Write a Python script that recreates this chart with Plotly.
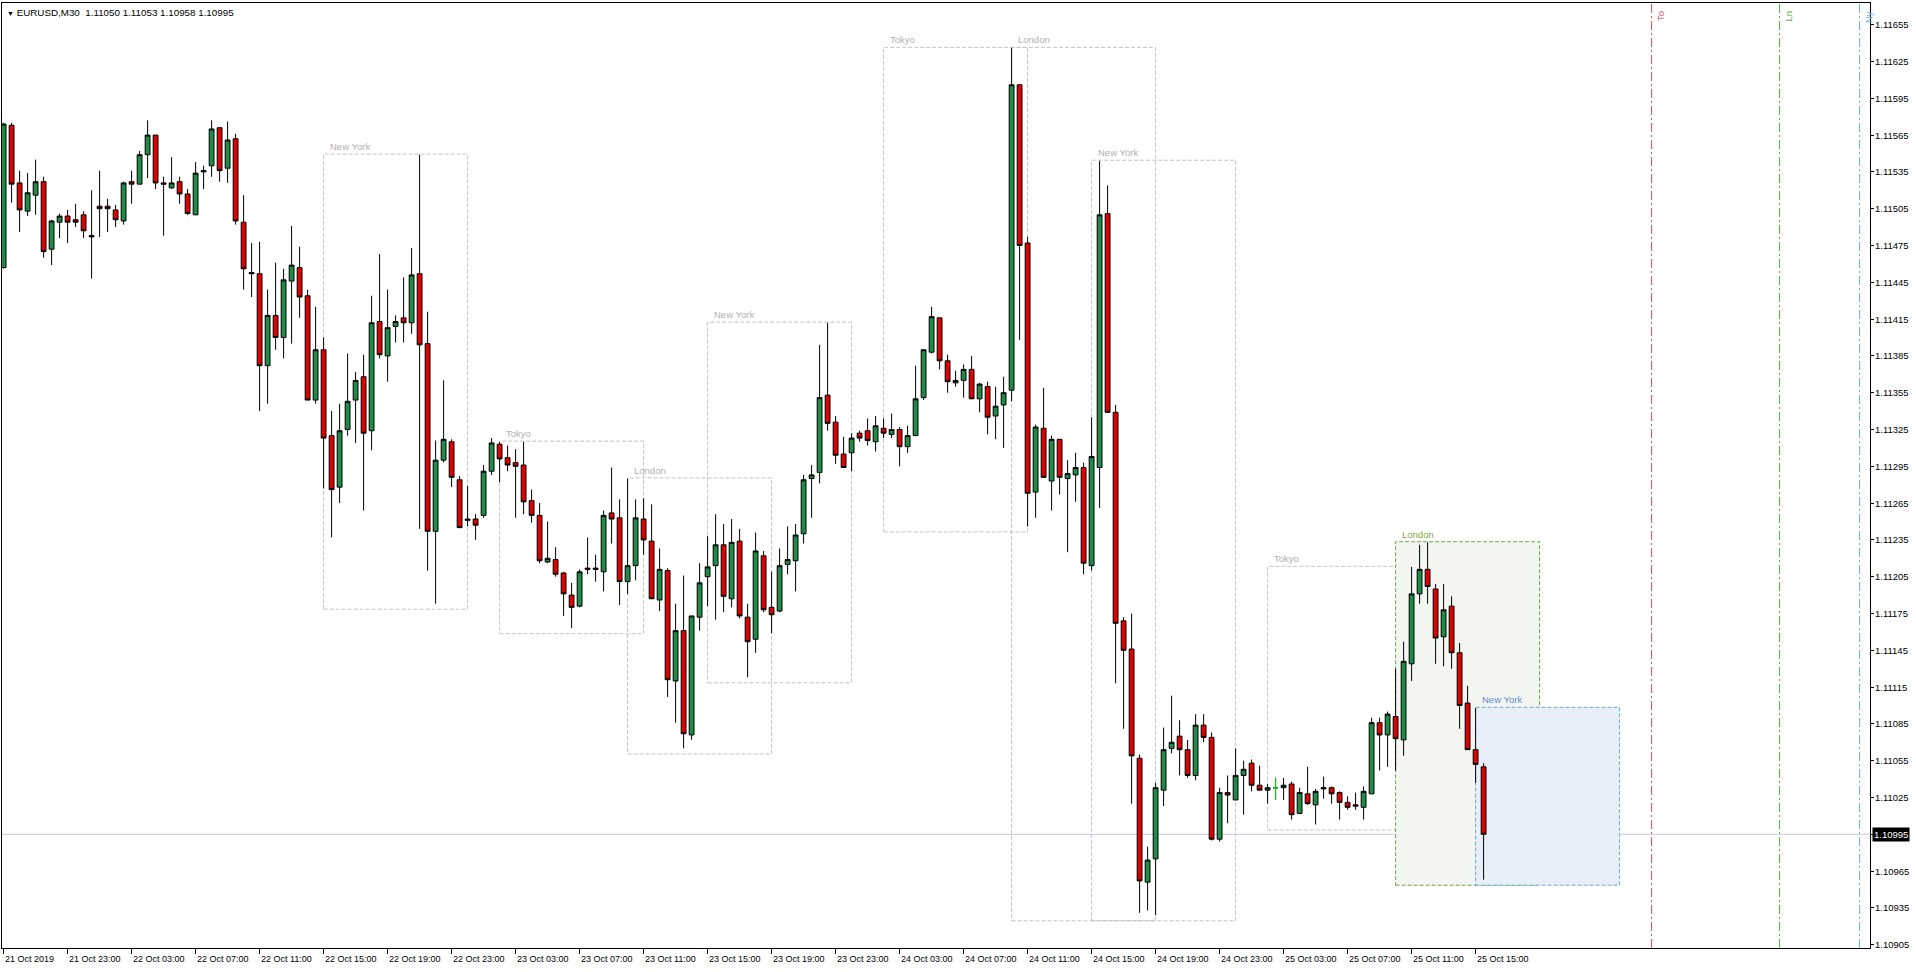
import plotly.graph_objects as go
import pandas as pd

# ---------------- data ----------------
SYMBOL = "EURUSD,M30"
TITLE_VALUES = ["1.11050", "1.11053", "1.10958", "1.10995"]
START_TIME = "2019-10-21 19:00"   # first M30 bar on the chart

OPEN = [
    1.11457, 1.11573, 1.11526, 1.11503, 1.11516, 1.11527, 1.11472, 1.11494, 1.11499, 1.11496,
    1.11500, 1.11482, 1.11507, 1.11507, 1.11504, 1.11495, 1.11527, 1.11525, 1.11549, 1.11565,
    1.11526, 1.11522, 1.11527, 1.11517, 1.11500, 1.11535, 1.11540, 1.11571, 1.11538, 1.11562,
    1.11494, 1.11453, 1.11452, 1.11377, 1.11418, 1.11400, 1.11446, 1.11457, 1.11434, 1.11349,
    1.11390, 1.11320, 1.11278, 1.11325, 1.11349, 1.11368, 1.11324, 1.11413, 1.11385, 1.11409,
    1.11416, 1.11412, 1.11452, 1.11395, 1.11242, 1.11300, 1.11315, 1.11284, 1.11252, 1.11252,
    1.11255, 1.11291, 1.11313, 1.11302, 1.11298, 1.11296, 1.11267, 1.11255, 1.11217, 1.11219,
    1.11208, 1.11190, 1.11181, 1.11212, 1.11212, 1.11209, 1.11257, 1.11253, 1.11201, 1.11214,
    1.11252, 1.11234, 1.11186, 1.11210, 1.11120, 1.11161, 1.11076, 1.11172, 1.11205, 1.11214,
    1.11231, 1.11187, 1.11234, 1.11172, 1.11154, 1.11222, 1.11180, 1.11177, 1.11215, 1.11218,
    1.11240, 1.11285, 1.11290, 1.11353, 1.11331, 1.11305, 1.11306, 1.11322, 1.11324, 1.11315,
    1.11326, 1.11321, 1.11325, 1.11311, 1.11320, 1.11351, 1.11388, 1.11416, 1.11381, 1.11363,
    1.11365, 1.11374, 1.11350, 1.11360, 1.11336, 1.11345, 1.11357, 1.11606, 1.11477, 1.11274,
    1.11326, 1.11283, 1.11317, 1.11285, 1.11288, 1.11294, 1.11214, 1.11294, 1.11501, 1.11339,
    1.11169, 1.11146, 1.11057, 1.10956, 1.10975, 1.11031, 1.11065, 1.11075, 1.11064, 1.11043,
    1.11084, 1.11074, 1.10991, 1.11029, 1.11023, 1.11043, 1.11053, 1.11035, 1.11031, 1.11033,
    1.11033, 1.11036, 1.11012, 1.11028, 1.11019, 1.11032, 1.11033, 1.11029, 1.11021, 1.11019,
    1.11017, 1.11028, 1.11086, 1.11076, 1.11091, 1.11072, 1.11134, 1.11191, 1.11211, 1.11195,
    1.11156, 1.11181, 1.11143, 1.11102, 1.11064, 1.11050,
]
HIGH = [
    1.11575, 1.11575, 1.11536, 1.11534, 1.11545, 1.11531, 1.11496, 1.11501, 1.11504, 1.11509,
    1.11503, 1.11520, 1.11536, 1.11513, 1.11508, 1.11527, 1.11536, 1.11552, 1.11577, 1.11565,
    1.11531, 1.11547, 1.11531, 1.11521, 1.11543, 1.11540, 1.11577, 1.11571, 1.11576, 1.11566,
    1.11516, 1.11477, 1.11478, 1.11439, 1.11461, 1.11456, 1.11491, 1.11474, 1.11439, 1.11425,
    1.11400, 1.11340, 1.11346, 1.11387, 1.11372, 1.11386, 1.11434, 1.11468, 1.11439, 1.11418,
    1.11449, 1.11473, 1.11549, 1.11421, 1.11316, 1.11365, 1.11317, 1.11287, 1.11279, 1.11256,
    1.11296, 1.11318, 1.11315, 1.11312, 1.11309, 1.11315, 1.11276, 1.11265, 1.11250, 1.11229,
    1.11209, 1.11200, 1.11211, 1.11237, 1.11223, 1.11259, 1.11294, 1.11268, 1.11285, 1.11268,
    1.11269, 1.11264, 1.11228, 1.11212, 1.11183, 1.11206, 1.11173, 1.11216, 1.11238, 1.11256,
    1.11248, 1.11252, 1.11244, 1.11183, 1.11241, 1.11226, 1.11209, 1.11228, 1.11246, 1.11248,
    1.11288, 1.11296, 1.11394, 1.11412, 1.11336, 1.11319, 1.11322, 1.11324, 1.11334, 1.11336,
    1.11334, 1.11338, 1.11327, 1.11328, 1.11377, 1.11390, 1.11425, 1.11416, 1.11386, 1.11373,
    1.11378, 1.11385, 1.11363, 1.11364, 1.11360, 1.11368, 1.11636, 1.11606, 1.11482, 1.11329,
    1.11359, 1.11320, 1.11317, 1.11300, 1.11306, 1.11298, 1.11335, 1.11544, 1.11524, 1.11345,
    1.11172, 1.11175, 1.11060, 1.10985, 1.11037, 1.11082, 1.11108, 1.11088, 1.11072, 1.11093,
    1.11093, 1.11078, 1.11033, 1.11043, 1.11065, 1.11055, 1.11056, 1.11051, 1.11036, 1.11041,
    1.11041, 1.11038, 1.11033, 1.11050, 1.11032, 1.11042, 1.11034, 1.11030, 1.11026, 1.11029,
    1.11034, 1.11090, 1.11090, 1.11095, 1.11130, 1.11152, 1.11213, 1.11231, 1.11233, 1.11199,
    1.11199, 1.11189, 1.11151, 1.11116, 1.11098, 1.11053,
]
LOW = [
    1.11456, 1.11510, 1.11486, 1.11499, 1.11500, 1.11465, 1.11459, 1.11481, 1.11477, 1.11490,
    1.11481, 1.11448, 1.11482, 1.11486, 1.11490, 1.11492, 1.11509, 1.11525, 1.11530, 1.11521,
    1.11483, 1.11521, 1.11509, 1.11500, 1.11500, 1.11521, 1.11531, 1.11527, 1.11526, 1.11492,
    1.11439, 1.11433, 1.11340, 1.11346, 1.11390, 1.11383, 1.11395, 1.11416, 1.11349, 1.11346,
    1.11277, 1.11237, 1.11265, 1.11320, 1.11314, 1.11259, 1.11308, 1.11383, 1.11364, 1.11396,
    1.11396, 1.11403, 1.11244, 1.11210, 1.11183, 1.11298, 1.11278, 1.11245, 1.11246, 1.11235,
    1.11253, 1.11288, 1.11282, 1.11291, 1.11253, 1.11256, 1.11249, 1.11216, 1.11216, 1.11205,
    1.11173, 1.11163, 1.11180, 1.11207, 1.11201, 1.11193, 1.11232, 1.11182, 1.11191, 1.11202,
    1.11223, 1.11187, 1.11177, 1.11107, 1.11086, 1.11065, 1.11072, 1.11161, 1.11181, 1.11170,
    1.11176, 1.11180, 1.11171, 1.11123, 1.11143, 1.11176, 1.11159, 1.11176, 1.11207, 1.11193,
    1.11232, 1.11253, 1.11281, 1.11324, 1.11297, 1.11294, 1.11291, 1.11315, 1.11312, 1.11307,
    1.11318, 1.11318, 1.11295, 1.11306, 1.11320, 1.11349, 1.11387, 1.11374, 1.11355, 1.11360,
    1.11351, 1.11350, 1.11339, 1.11321, 1.11317, 1.11310, 1.11348, 1.11398, 1.11246, 1.11253,
    1.11286, 1.11259, 1.11272, 1.11225, 1.11266, 1.11207, 1.11210, 1.11261, 1.11339, 1.11118,
    1.11081, 1.11020, 1.10931, 1.10933, 1.10929, 1.11018, 1.11061, 1.11043, 1.11041, 1.11039,
    1.11070, 1.10990, 1.10989, 1.11004, 1.11023, 1.11011, 1.11030, 1.11031, 1.11020, 1.11023,
    1.11023, 1.11007, 1.11012, 1.11019, 1.11003, 1.11024, 1.11020, 1.11007, 1.11015, 1.11015,
    1.11007, 1.11028, 1.11047, 1.11050, 1.11047, 1.11059, 1.11120, 1.11183, 1.11183, 1.11134,
    1.11132, 1.11130, 1.11081, 1.11064, 1.11037, 1.10958,
]
CLOSE = [
    1.11574, 1.11525, 1.11504, 1.11518, 1.11527, 1.11470, 1.11495, 1.11499, 1.11494, 1.11494,
    1.11487, 1.11483, 1.11505, 1.11505, 1.11496, 1.11526, 1.11525, 1.11549, 1.11565, 1.11526,
    1.11525, 1.11526, 1.11517, 1.11501, 1.11534, 1.11536, 1.11570, 1.11536, 1.11561, 1.11495,
    1.11456, 1.11452, 1.11377, 1.11418, 1.11400, 1.11447, 1.11459, 1.11433, 1.11349, 1.11390,
    1.11318, 1.11276, 1.11324, 1.11348, 1.11365, 1.11322, 1.11412, 1.11386, 1.11408, 1.11413,
    1.11412, 1.11451, 1.11394, 1.11242, 1.11300, 1.11317, 1.11286, 1.11245, 1.11251, 1.11247,
    1.11291, 1.11314, 1.11301, 1.11296, 1.11295, 1.11266, 1.11255, 1.11218, 1.11220, 1.11207,
    1.11191, 1.11180, 1.11209, 1.11211, 1.11211, 1.11255, 1.11252, 1.11201, 1.11214, 1.11253,
    1.11235, 1.11187, 1.11211, 1.11121, 1.11161, 1.11077, 1.11173, 1.11200, 1.11213, 1.11231,
    1.11189, 1.11233, 1.11173, 1.11152, 1.11226, 1.11178, 1.11174, 1.11214, 1.11219, 1.11239,
    1.11284, 1.11288, 1.11351, 1.11330, 1.11304, 1.11294, 1.11318, 1.11318, 1.11316, 1.11328,
    1.11322, 1.11325, 1.11311, 1.11320, 1.11350, 1.11390, 1.11417, 1.11381, 1.11364, 1.11365,
    1.11374, 1.11350, 1.11362, 1.11335, 1.11344, 1.11355, 1.11606, 1.11475, 1.11273, 1.11327,
    1.11286, 1.11317, 1.11286, 1.11289, 1.11294, 1.11216, 1.11303, 1.11500, 1.11339, 1.11167,
    1.11145, 1.11059, 1.10957, 1.10974, 1.11033, 1.11064, 1.11070, 1.11064, 1.11043, 1.11084,
    1.11074, 1.10991, 1.11029, 1.11027, 1.11043, 1.11048, 1.11035, 1.11031, 1.11033, 1.11033,
    1.11035, 1.11011, 1.11029, 1.11020, 1.11030, 1.11033, 1.11028, 1.11021, 1.11017, 1.11018,
    1.11030, 1.11086, 1.11076, 1.11093, 1.11073, 1.11136, 1.11191, 1.11211, 1.11197, 1.11155,
    1.11178, 1.11143, 1.11100, 1.11064, 1.11052, 1.10995,
]

CURRENT_PRICE = 1.10995

PRICE_TICKS = [1.10905, 1.10935, 1.10965, 1.10995, 1.11025, 1.11055, 1.11085, 1.11115,
               1.11145, 1.11175, 1.11205, 1.11235, 1.11265, 1.11295, 1.11325, 1.11355,
               1.11385, 1.11415, 1.11445, 1.11475, 1.11505, 1.11535, 1.11565, 1.11595,
               1.11625, 1.11655]

TIME_LABELS = ["21 Oct 2019", "21 Oct 23:00", "22 Oct 03:00", "22 Oct 07:00", "22 Oct 11:00",
               "22 Oct 15:00", "22 Oct 19:00", "22 Oct 23:00", "23 Oct 03:00", "23 Oct 07:00",
               "23 Oct 11:00", "23 Oct 15:00", "23 Oct 19:00", "23 Oct 23:00", "24 Oct 03:00",
               "24 Oct 07:00", "24 Oct 11:00", "24 Oct 15:00", "24 Oct 19:00", "24 Oct 23:00",
               "25 Oct 03:00", "25 Oct 07:00", "25 Oct 11:00", "25 Oct 15:00"]
TIME_LABEL_STEP = 8   # bars between time labels

SESSION_NAMES = ["New York", "Tokyo", "London", "New York", "Tokyo", "London", "New York",
                 "Tokyo", "London", "New York"]
SESSION_STARTS = ["2019-10-22 15:00", "2019-10-23 02:00", "2019-10-23 10:00", "2019-10-23 15:00",
                  "2019-10-24 02:00", "2019-10-24 10:00", "2019-10-24 15:00",
                  "2019-10-25 02:00", "2019-10-25 10:00", "2019-10-25 15:00"]
SESSION_ACTIVE = [False, False, False, False, False, False, False, False, True, True]
SESSION_HOURS = 9

VLINE_NAMES = ["To", "Ln", "Ny"]
VLINE_TIMES = ["2019-10-26 02:00", "2019-10-26 10:00", "2019-10-26 15:00"]

# ---------------- styles ----------------
FONT = "Liberation Sans, Arial, sans-serif"
BULL = "#1f8b47"
BEAR = "#e00000"
GRAY_BOX = "#c4c4c4"
GRAY_TXT = "#b0b0b0"
ACTIVE_STYLE = {
    "London": dict(line="#62ab45", fill="#f3f6f0", text="#7fa83a"),
    "New York": dict(line="#6fa8dc", fill="#e8eff8", text="#5d8fc9"),
}
VLINE_COLORS = {"To": "#c8505c", "Ln": "#55ad3a", "Ny": "#6fa8dc"}

BAR_W = 8.0            # px per bar
PLOT_L, PLOT_R = 2, 1870
PLOT_T, PLOT_B = 3, 948
W, H = 1916, 972

t0 = pd.Timestamp(START_TIME)
n = len(OPEN)
idx = list(range(n))


def bar_index(ts):
    return (pd.Timestamp(ts) - t0) / pd.Timedelta(minutes=30)


# price <-> pixel calibration (1.10995 at y=834.3 ; 1.2267 px per point)
PX_PER_POINT = 1.2267
y_cur = 834.3
y_top_price = CURRENT_PRICE + (y_cur - PLOT_T) / PX_PER_POINT * 1e-5
y_bot_price = CURRENT_PRICE - (PLOT_B - y_cur) / PX_PER_POINT * 1e-5
x_left = -0.2
x_right = x_left + (PLOT_R - PLOT_L) / BAR_W

fig = go.Figure()

fig.add_trace(go.Candlestick(
    x=idx, open=OPEN, high=HIGH, low=LOW, close=CLOSE,
    increasing=dict(fillcolor=BULL, line=dict(color="black", width=1)),
    decreasing=dict(fillcolor=BEAR, line=dict(color="black", width=1)),
    whiskerwidth=0, hoverinfo="skip", showlegend=False,
))

# doji bars (open == close) drawn in lime like MT4
dx, dy = [], []
for i in idx:
    if abs(OPEN[i] - CLOSE[i]) < 1e-9:
        dx += [i, i, None, i - 0.35, i + 0.35, None]
        dy += [LOW[i], HIGH[i], None, OPEN[i], OPEN[i], None]
if dx:
    fig.add_trace(go.Scatter(x=dx, y=dy, mode="lines", line=dict(color="#00e000", width=1),
                             hoverinfo="skip", showlegend=False))

shapes = []
annotations = []

# session boxes
for name, start, active in zip(SESSION_NAMES, SESSION_STARTS, SESSION_ACTIVE):
    s = int(round(bar_index(start)))
    e = s + SESSION_HOURS * 2
    last = min(e, n - 1)
    hi = max(HIGH[s:last + 1]) + 0.000005
    lo = min(LOW[s:last + 1]) - 0.000045
    if active:
        st = ACTIVE_STYLE[name]
        lc, fc, tc = st["line"], st["fill"], st["text"]
    else:
        lc, fc, tc = GRAY_BOX, "rgba(0,0,0,0)", GRAY_TXT
    shapes.append(dict(type="rect", xref="x", yref="y", x0=s, x1=e, y0=lo, y1=hi,
                       line=dict(color=lc, width=1, dash="4px,2px"), fillcolor=fc,
                       layer="below"))
    annotations.append(dict(x=s, y=hi, xref="x", yref="y", text=name, showarrow=False,
                            xanchor="left", yanchor="bottom", xshift=4, yshift=0,
                            font=dict(family=FONT, size=9.5, color=tc)))

# current price line
shapes.append(dict(type="line", xref="paper", yref="y", x0=0, x1=1, y0=CURRENT_PRICE,
                   y1=CURRENT_PRICE, line=dict(color="#c8c8e6", width=1), layer="below"))

# vertical session-open lines
for name, ts in zip(VLINE_NAMES, VLINE_TIMES):
    xi = bar_index(ts)
    c = VLINE_COLORS[name]
    shapes.append(dict(type="line", xref="x", yref="paper", x0=xi, x1=xi, y0=0, y1=1,
                       line=dict(color=c, width=1, dash="9px,3px,2px,3px"), layer="below"))
    annotations.append(dict(x=xi, y=1, xref="x", yref="paper", text=name, showarrow=False,
                            textangle=-90, xanchor="left", yanchor="top", xshift=1, yshift=-6,
                            font=dict(family=FONT, size=9.5, color=c)))

# time labels (left-aligned after their tick, MT4 style)
tick_pos = [k * TIME_LABEL_STEP for k in range(len(TIME_LABELS))]
for p, lab in zip(tick_pos, TIME_LABELS):
    annotations.append(dict(x=p, y=0, xref="x", yref="paper", text=lab, showarrow=False,
                            xanchor="left", yanchor="top", xshift=-1, yshift=-4,
                            font=dict(family=FONT, size=9, color="black")))

# price labels (left-aligned after their tick, MT4 style)
for v in PRICE_TICKS:
    if abs(v - CURRENT_PRICE) < 1e-9:
        continue
    annotations.append(dict(x=1, y=v, xref="paper", yref="y", text=f"{v:.5f}",
                            showarrow=False, xanchor="left", yanchor="middle", xshift=3,
                            font=dict(family=FONT, size=9.5, color="black")))

# title
title_txt = ("<span style='font-size:7px'>\u25BC</span> " + SYMBOL + "\u00a0 "
             + " ".join(TITLE_VALUES))
annotations.append(dict(x=0, y=1, xref="paper", yref="paper", text=title_txt, showarrow=False,
                        xanchor="left", yanchor="top", xshift=3, yshift=-2,
                        font=dict(family=FONT, size=9.8, color="black")))

# current price tag on axis
annotations.append(dict(x=1, y=CURRENT_PRICE, xref="paper", yref="y",
                        text=f"{CURRENT_PRICE:.5f}", showarrow=False, xanchor="left",
                        yanchor="middle", xshift=2, bgcolor="black", borderpad=1,
                        font=dict(family=FONT, size=9.5, color="white")))

fig.update_layout(
    width=W, height=H,
    margin=dict(l=PLOT_L, r=W - PLOT_R, t=PLOT_T, b=H - PLOT_B, pad=0),
    paper_bgcolor="white", plot_bgcolor="white",
    showlegend=False, boxgap=0.4, boxgroupgap=0,
    shapes=shapes, annotations=annotations,
    hovermode=False,
    xaxis=dict(range=[x_left, x_right], showgrid=False, zeroline=False,
               showline=True, mirror=True, linecolor="black", linewidth=1,
               tickvals=tick_pos, ticks="outside", ticklen=5, tickcolor="black",
               showticklabels=False, rangeslider=dict(visible=False), fixedrange=True),
    yaxis=dict(range=[y_bot_price, y_top_price], side="right", showgrid=False,
               zeroline=False, showline=True, mirror=True, linecolor="black", linewidth=1,
               tickvals=PRICE_TICKS, ticks="outside", ticklen=3, tickcolor="black",
               showticklabels=False, fixedrange=True),
)

fig.write_html("out.html", config={"displayModeBar": False},
               post_script="document.body.style.margin='0px';document.body.style.overflow='hidden';")
